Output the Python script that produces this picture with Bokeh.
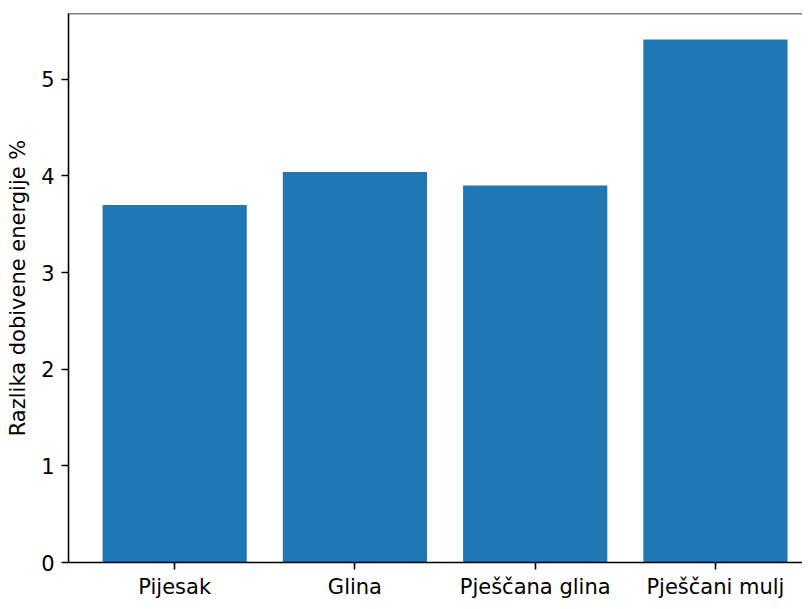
from bokeh.plotting import figure
from bokeh.models import Range1d, FixedTicker, Span, ColumnDataSource
from bokeh.embed import file_html
from bokeh.resources import INLINE

categories = ["Pijesak", "Glina", "Pješčana glina", "Pješčani mulj"]
values = [3.70, 4.04, 3.90, 5.41]
y_ticks = [0, 1, 2, 3, 4, 5]
y_label = "Razlika dobivene energije %"

xs = list(range(len(categories)))
src = ColumnDataSource(dict(x=xs, top=values, name=categories))

FONT = "DejaVu Sans"
FS = "21px"
Y_MAX = 5.68

p = figure(width=802, height=601, output_backend="svg", toolbar_location=None,
           x_range=Range1d(-0.589, 3.483), y_range=Range1d(0, Y_MAX),
           min_border_left=68, min_border_top=13, min_border_right=0, min_border_bottom=0)
p.outline_line_color = None
p.grid.visible = False
p.background_fill_color = "white"
p.border_fill_color = "white"

p.vbar(x="x", top="top", width=0.8, bottom=0, source=src,
       fill_color="#1f77b4", line_color=None)

top_spine = Span(location=Y_MAX, dimension="width", line_color="black", line_width=1.6)
p.add_layout(top_spine)

xa = p.xaxis[0]
xa.ticker = FixedTicker(ticks=xs)
xa.major_label_overrides = {i: c for i, c in enumerate(categories)}
ya = p.yaxis[0]
ya.ticker = FixedTicker(ticks=y_ticks)
ya.axis_label = y_label

for ax in (xa, ya):
    ax.axis_line_color = "black"
    ax.axis_line_width = 1.6
    ax.major_tick_line_color = "black"
    ax.major_tick_line_width = 1.6
    ax.major_tick_out = 7
    ax.major_tick_in = 0
    ax.minor_tick_line_color = None
    ax.major_label_text_font = FONT
    ax.major_label_text_font_size = FS
    ax.major_label_text_color = "black"
    ax.major_label_standoff = 7
    ax.axis_label_text_font = FONT
    ax.axis_label_text_font_size = FS
    ax.axis_label_text_font_style = "normal"
    ax.axis_label_text_color = "black"
    ax.axis_label_standoff = 8
xa.major_label_standoff = 5

open("out.html", "w").write(file_html(p, INLINE))
